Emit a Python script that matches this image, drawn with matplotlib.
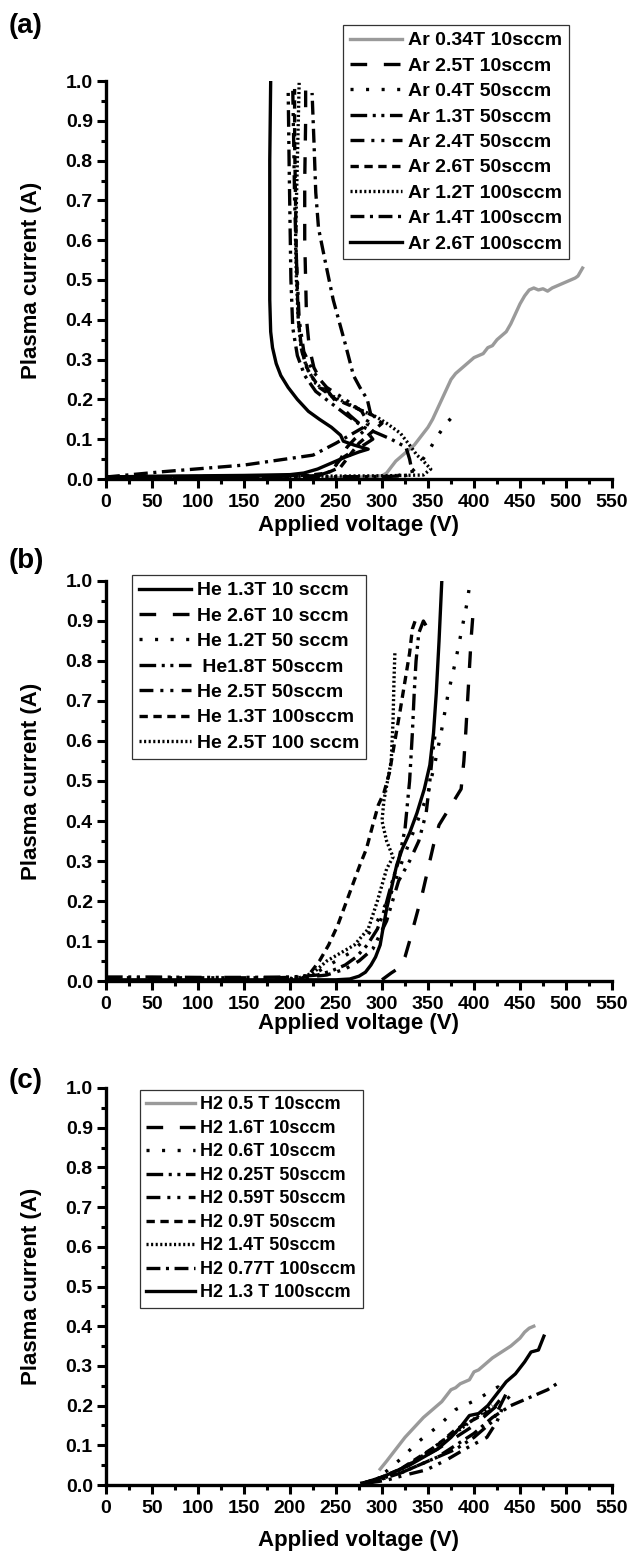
import numpy as np
import matplotlib
matplotlib.use('Agg')
import matplotlib.pyplot as plt
from matplotlib.ticker import MultipleLocator, FormatStrFormatter

plt.rcParams['font.family'] = ['Liberation Sans', 'DejaVu Sans']
plt.rcParams['font.weight'] = 'bold'
plt.rcParams['lines.scale_dashes'] = False

# ---------------- data: panel (a) Ar ----------------
ar_034_10_v = [240, 270, 300, 305, 310, 315, 320, 325, 330, 335, 340, 345, 350, 355, 360, 365, 370, 375,
               380, 385, 390, 395, 400, 405, 410, 415, 420, 425, 430, 435, 440, 445, 450, 455, 460, 465,
               470, 475, 480, 485, 490, 495, 500, 505, 510, 513, 518]
ar_034_10_i = [0.003, 0.004, 0.008, 0.015, 0.03, 0.045, 0.055, 0.065, 0.075, 0.085, 0.1, 0.115, 0.13, 0.15,
               0.175, 0.2, 0.225, 0.25, 0.265, 0.275, 0.285, 0.295, 0.305, 0.31, 0.315, 0.33, 0.335, 0.35,
               0.36, 0.37, 0.39, 0.415, 0.44, 0.46, 0.475, 0.48, 0.475, 0.478, 0.472, 0.48, 0.485, 0.49,
               0.495, 0.5, 0.505, 0.51, 0.53]
ar_25_10_v = [0, 60, 120, 180, 230, 240, 248, 255, 265, 280, 290, 280, 265, 248, 235, 226, 221, 218, 217,
              216, 216, 217, 217]
ar_25_10_i = [0.004, 0.005, 0.006, 0.007, 0.008, 0.015, 0.03, 0.05, 0.065, 0.085, 0.1, 0.13, 0.16, 0.2,
              0.24, 0.28, 0.33, 0.4, 0.5, 0.6, 0.75, 0.9, 0.99]
ar_04_50_v = [300, 315, 325, 333, 340, 346, 352, 358, 364, 370, 378]
ar_04_50_i = [0.005, 0.008, 0.012, 0.02, 0.035, 0.055, 0.075, 0.1, 0.12, 0.14, 0.16]
ar_13_50_v = [0, 100, 200, 240, 300, 325, 333, 330, 326, 310, 295, 280, 262, 245, 228, 216, 208, 203, 201,
              200, 199, 198]
ar_13_50_i = [0.004, 0.005, 0.006, 0.006, 0.006, 0.008, 0.015, 0.05, 0.08, 0.1, 0.115, 0.13, 0.16, 0.19,
              0.22, 0.26, 0.31, 0.38, 0.5, 0.65, 0.8, 0.98]
ar_24_50_v = [0, 150, 230, 245, 255, 262, 270, 280, 285, 278, 260, 240, 225, 215, 210, 207, 205, 204, 203]
ar_24_50_i = [0.004, 0.006, 0.008, 0.02, 0.05, 0.08, 0.1, 0.12, 0.14, 0.17, 0.2, 0.23, 0.27, 0.32, 0.4,
              0.55, 0.7, 0.85, 0.98]
ar_26_50_v = [0, 150, 220, 240, 255, 265, 275, 290, 300, 290, 270, 250, 232, 220, 213, 209, 207, 206, 205,
              205]
ar_26_50_i = [0.005, 0.007, 0.009, 0.015, 0.03, 0.06, 0.09, 0.12, 0.14, 0.16, 0.18, 0.2, 0.23, 0.27, 0.32,
              0.4, 0.55, 0.7, 0.85, 0.98]
ar_12_100_v = [0, 150, 300, 345, 353, 345, 338, 330, 320, 305, 294, 280, 262, 245, 228, 218, 212, 209, 207,
               206, 207, 208, 209, 210]
ar_12_100_i = [0.004, 0.006, 0.008, 0.01, 0.025, 0.045, 0.06, 0.085, 0.115, 0.14, 0.156, 0.17, 0.19, 0.21,
               0.24, 0.28, 0.33, 0.4, 0.5, 0.6, 0.7, 0.8, 0.9, 1.0]
ar_14_100_v = [0, 60, 150, 225, 250, 265, 280, 288, 284, 276, 269, 260, 247, 238, 231, 228, 226, 224]
ar_14_100_i = [0.005, 0.018, 0.035, 0.06, 0.09, 0.11, 0.13, 0.16, 0.2, 0.23, 0.26, 0.34, 0.45, 0.55, 0.63,
               0.72, 0.85, 0.97]
ar_26_100_v = [0, 50, 100, 150, 200, 215, 230, 245, 260, 275, 285, 270, 258, 255, 245, 232, 220, 208, 198,
               190, 185, 181, 179, 178, 178, 178, 179]
ar_26_100_i = [0.005, 0.007, 0.008, 0.009, 0.011, 0.015, 0.025, 0.04, 0.055, 0.068, 0.075, 0.085, 0.095,
               0.11, 0.13, 0.15, 0.17, 0.2, 0.23, 0.26, 0.29, 0.33, 0.37, 0.45, 0.6, 0.8, 1.0]

# ---------------- data: panel (b) He ----------------
he_13_10_v = [0, 100, 200, 250, 265, 275, 282, 288, 293, 298, 301, 305, 310, 316, 322, 330, 338, 346, 352,
              356, 359, 362, 365]
he_13_10_i = [0.003, 0.003, 0.003, 0.003, 0.005, 0.012, 0.022, 0.04, 0.06, 0.09, 0.13, 0.18, 0.23, 0.29,
              0.33, 0.37, 0.42, 0.48, 0.54, 0.62, 0.72, 0.85, 1.0]
he_26_10_v = [300, 310, 320, 325, 330, 337, 344, 350, 356, 362, 370, 378, 386, 389, 391, 393, 395, 397, 399]
he_26_10_i = [0.003, 0.02, 0.035, 0.06, 0.1, 0.16, 0.22, 0.28, 0.34, 0.39, 0.42, 0.45, 0.48, 0.55, 0.62,
              0.7, 0.78, 0.86, 0.92]
he_12_50_v = [200, 220, 235, 250, 265, 280, 295, 310, 322, 332, 342, 350, 358, 365, 372, 380, 386, 392, 396]
he_12_50_i = [0.005, 0.008, 0.03, 0.05, 0.07, 0.1, 0.15, 0.22, 0.3, 0.36, 0.42, 0.47, 0.55, 0.63, 0.72,
              0.8, 0.87, 0.94, 1.0]
he_18_50_v = [0, 50, 100, 150, 200, 215, 230, 245, 260, 272, 284, 295, 303, 310, 318, 325, 330, 333, 335,
              337, 340, 345, 350]
he_18_50_i = [0.01, 0.01, 0.009, 0.009, 0.01, 0.012, 0.015, 0.025, 0.04, 0.06, 0.09, 0.13, 0.18, 0.24, 0.3,
              0.38, 0.5, 0.62, 0.72, 0.8, 0.87, 0.9, 0.88]
he_25_50_v = [0, 60, 120, 180, 220, 240, 260, 275, 290, 305, 318, 330, 340, 348, 352, 355, 358]
he_25_50_i = [0.008, 0.008, 0.008, 0.008, 0.01, 0.015, 0.03, 0.05, 0.08, 0.15, 0.25, 0.3, 0.35, 0.42, 0.5,
              0.57, 0.62]
he_13_100_v = [210, 222, 232, 242, 252, 260, 268, 276, 283, 290, 296, 302, 308, 314, 320, 325, 330, 333, 336]
he_13_100_i = [0.003, 0.02, 0.05, 0.09, 0.14, 0.19, 0.24, 0.29, 0.33, 0.39, 0.44, 0.47, 0.52, 0.6, 0.68,
               0.75, 0.82, 0.88, 0.9]
he_25_100_v = [190, 210, 225, 240, 255, 270, 285, 295, 305, 312, 305, 300, 302, 306, 310, 312, 313, 314]
he_25_100_i = [0.005, 0.008, 0.02, 0.05, 0.07, 0.09, 0.13, 0.2, 0.28, 0.31, 0.35, 0.4, 0.45, 0.5, 0.55,
               0.65, 0.75, 0.82]

# ---------------- data: panel (c) H2 ----------------
h2_05_10_v = [298, 305, 315, 325, 335, 345, 355, 365, 375, 380, 385, 390, 395, 400, 405, 410, 415, 420, 430,
              440, 450, 455, 460, 465]
h2_05_10_i = [0.04, 0.06, 0.09, 0.12, 0.145, 0.17, 0.19, 0.21, 0.24, 0.245, 0.255, 0.26, 0.265, 0.285, 0.29,
              0.3, 0.31, 0.32, 0.335, 0.35, 0.37, 0.385, 0.395, 0.4]
h2_16_10_v = [285, 300, 320, 340, 360, 380, 400, 420, 435]
h2_16_10_i = [0.005, 0.02, 0.04, 0.065, 0.09, 0.12, 0.15, 0.19, 0.22]
h2_06_10_v = [290, 305, 320, 340, 362, 380, 403, 426, 446]
h2_06_10_i = [0.01, 0.035, 0.065, 0.11, 0.15, 0.19, 0.215, 0.247, 0.2]
h2_025_50_v = [280, 300, 320, 340, 360, 380, 400, 420, 435]
h2_025_50_i = [0.005, 0.02, 0.03, 0.05, 0.07, 0.09, 0.12, 0.16, 0.23]
h2_059_50_v = [285, 305, 325, 348, 370, 392, 414, 425, 432]
h2_059_50_i = [0.005, 0.012, 0.025, 0.038, 0.063, 0.093, 0.12, 0.16, 0.2]
h2_09_50_v = [280, 300, 320, 340, 360, 380, 400, 420, 430]
h2_09_50_i = [0.005, 0.02, 0.04, 0.07, 0.1, 0.14, 0.165, 0.19, 0.22]
h2_14_50_v = [285, 305, 325, 345, 365, 385, 405, 420]
h2_14_50_i = [0.005, 0.02, 0.045, 0.075, 0.11, 0.14, 0.175, 0.2]
h2_077_100_v = [280, 300, 320, 340, 360, 380, 400, 420, 440, 460, 480, 490]
h2_077_100_i = [0.005, 0.015, 0.03, 0.05, 0.07, 0.1, 0.13, 0.17, 0.2, 0.22, 0.24, 0.255]
h2_13_100_v = [278, 290, 300, 315, 330, 345, 360, 375, 385, 395, 405, 415, 425, 435, 445, 455, 462, 470, 476]
h2_13_100_i = [0.005, 0.01, 0.02, 0.035, 0.05, 0.07, 0.09, 0.12, 0.145, 0.175, 0.18, 0.2, 0.23, 0.26, 0.28,
               0.31, 0.335, 0.34, 0.375]

# line styles (points, unscaled)
GRAY = '#9a9a9a'
SOLID = '-'
LONGDASH = (0, (12, 12))
SPARSEDOT = (0, (2.2, 9))
DASHDOTDOT = (0, (12, 4, 2.2, 4, 2.2, 4))
DASHDOTDOT2 = (0, (10, 5, 2.2, 5, 2.2, 6))
SHORTDASH = (0, (6, 4))
DOTTED = (0, (1.5, 1.8))
DASHDOT = (0, (10, 4, 2.2, 4))

panels = [
    ('(a)', [
        (ar_034_10_v, ar_034_10_i, 'Ar 0.34T 10sccm', SOLID, GRAY),
        (ar_25_10_v, ar_25_10_i, 'Ar 2.5T 10sccm', LONGDASH, 'k'),
        (ar_04_50_v, ar_04_50_i, 'Ar 0.4T 50sccm', SPARSEDOT, 'k'),
        (ar_13_50_v, ar_13_50_i, 'Ar 1.3T 50sccm', DASHDOTDOT, 'k'),
        (ar_24_50_v, ar_24_50_i, 'Ar 2.4T 50sccm', DASHDOTDOT2, 'k'),
        (ar_26_50_v, ar_26_50_i, 'Ar 2.6T 50sccm', SHORTDASH, 'k'),
        (ar_12_100_v, ar_12_100_i, 'Ar 1.2T 100sccm', DOTTED, 'k'),
        (ar_14_100_v, ar_14_100_i, 'Ar 1.4T 100sccm', DASHDOT, 'k'),
        (ar_26_100_v, ar_26_100_i, 'Ar 2.6T 100sccm', SOLID, 'k'),
    ]),
    ('(b)', [
        (he_13_10_v, he_13_10_i, 'He 1.3T 10 sccm', SOLID, 'k'),
        (he_26_10_v, he_26_10_i, 'He 2.6T 10 sccm', LONGDASH, 'k'),
        (he_12_50_v, he_12_50_i, 'He 1.2T 50 sccm', SPARSEDOT, 'k'),
        (he_18_50_v, he_18_50_i, ' He1.8T 50sccm', DASHDOTDOT, 'k'),
        (he_25_50_v, he_25_50_i, 'He 2.5T 50sccm', DASHDOTDOT2, 'k'),
        (he_13_100_v, he_13_100_i, 'He 1.3T 100sccm', SHORTDASH, 'k'),
        (he_25_100_v, he_25_100_i, 'He 2.5T 100 sccm', DOTTED, 'k'),
    ]),
    ('(c)', [
        (h2_05_10_v, h2_05_10_i, 'H2 0.5 T 10sccm', SOLID, GRAY),
        (h2_16_10_v, h2_16_10_i, 'H2 1.6T 10sccm', LONGDASH, 'k'),
        (h2_06_10_v, h2_06_10_i, 'H2 0.6T 10sccm', SPARSEDOT, 'k'),
        (h2_025_50_v, h2_025_50_i, 'H2 0.25T 50sccm', DASHDOTDOT, 'k'),
        (h2_059_50_v, h2_059_50_i, 'H2 0.59T 50sccm', DASHDOTDOT2, 'k'),
        (h2_09_50_v, h2_09_50_i, 'H2 0.9T 50sccm', SHORTDASH, 'k'),
        (h2_14_50_v, h2_14_50_i, 'H2 1.4T 50sccm', DOTTED, 'k'),
        (h2_077_100_v, h2_077_100_i, 'H2 0.77T 100sccm', DASHDOT, 'k'),
        (h2_13_100_v, h2_13_100_i, 'H2 1.3 T 100sccm', SOLID, 'k'),
    ]),
]

W, H = 632, 1559
fig = plt.figure(figsize=(W / 100, H / 100), dpi=100)

# axes boxes in pixels: (top, bottom) of y range, x from 106 to 612
ax_boxes = [(81, 479), (581, 981), (1088, 1485)]
# legend upper-left corner in pixels, label spacing, font size
leg_pos = [(343, 25, 0.40, 14), (132, 575, 0.40, 14), (140, 1090, 0.36, 13)]
panel_lab = [(26, 26), (26, 561), (26, 1081)]
xlab_off = [36, 32, 45]

for k, (tag, curves) in enumerate(panels):
    top, bot = ax_boxes[k]
    ax = fig.add_axes([106 / W, 1 - bot / H, 506 / W, (bot - top) / H])
    for v, i, lab, ls, col in curves:
        ax.plot(v, i, linestyle=ls, color=col, lw=2.4, label=lab)
    ax.set_xlim(0, 550)
    ax.set_ylim(0, 1.0)
    ax.xaxis.set_major_locator(MultipleLocator(50))
    ax.xaxis.set_minor_locator(MultipleLocator(25))
    ax.yaxis.set_major_locator(MultipleLocator(0.1))
    ax.yaxis.set_minor_locator(MultipleLocator(0.05))
    ax.yaxis.set_major_formatter(FormatStrFormatter('%.1f'))
    for s in ['top', 'right']:
        ax.spines[s].set_visible(False)
    for s in ['left', 'bottom']:
        ax.spines[s].set_linewidth(2.4)
    ax.tick_params(which='major', direction='out', length=6.5, width=2.2, labelsize=14, pad=3)
    ax.tick_params(which='minor', direction='out', length=3.5, width=2.2)
    ax.tick_params(axis='x', which='major', pad=4)
    for t in ax.get_xticklabels() + ax.get_yticklabels():
        t.set_fontweight('bold')
    ax.set_xlabel('Applied voltage (V)', fontsize=16, fontweight='bold')
    ax.set_ylabel('Plasma current (A)', fontsize=16, fontweight='bold')
    ax.xaxis.set_label_coords(0.5, -xlab_off[k] / (bot - top))
    ax.xaxis.label.set_va('top')
    ax.yaxis.set_label_coords((42 - 106) / 506, 0.5)

    lx, ly, lsp, lfs = leg_pos[k]
    leg = ax.legend(loc='upper left', bbox_to_anchor=(lx / W, 1 - ly / H),
                    bbox_transform=fig.transFigure, fontsize=lfs, frameon=True,
                    fancybox=False, framealpha=1, edgecolor='#333333',
                    handlelength=2.7, handletextpad=0.3, labelspacing=lsp,
                    borderpad=0.35, borderaxespad=0)
    leg.get_frame().set_linewidth(0.9)
    for t in leg.get_texts():
        t.set_fontweight('bold')

    px, py = panel_lab[k]
    fig.text(px / W, 1 - py / H, tag, fontsize=20, fontweight='bold', ha='center', va='center')

fig.savefig('out.png', dpi=100)
